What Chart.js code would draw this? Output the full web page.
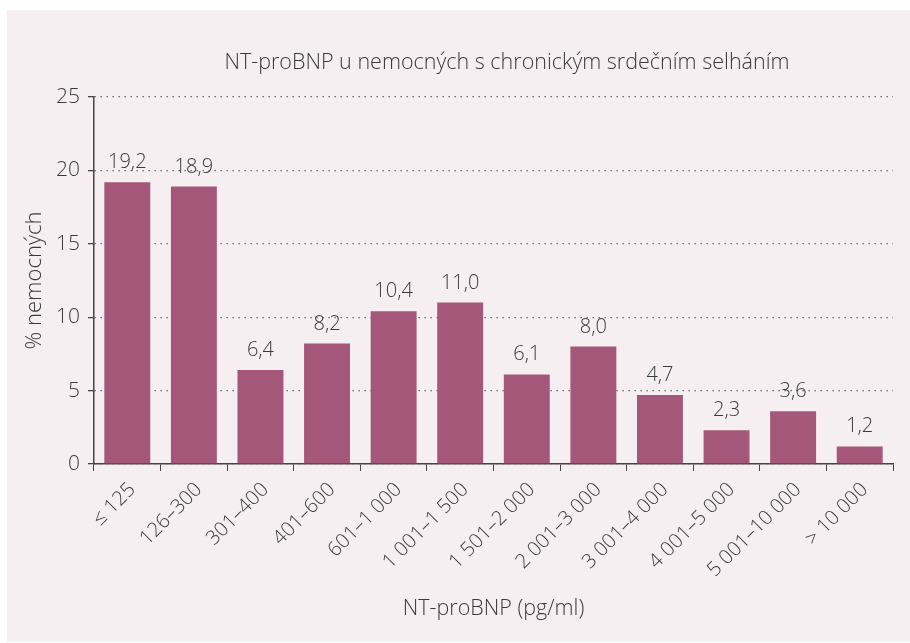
<!DOCTYPE html>
<html>
<head>
<meta charset="utf-8">
<script src="https://cdn.jsdelivr.net/npm/chart.js@4"></script>
<style>
  html, body { margin: 0; padding: 0; background: #fff; }
  #wrap { width: 910px; height: 643px; position: relative; }
</style>
</head>
<body>
<div id="wrap"><canvas id="chart" width="910" height="643"></canvas></div>
<script>
const categories = ['\u2264 125', '126\u2013300', '301\u2013400', '401\u2013600', '601\u20131 000', '1 001\u20131 500',
  '1 501\u20132 000', '2 001\u20133 000', '3 001\u20134 000', '4 001\u20135 000', '5 001\u201310 000', '> 10 000'];
const percentPatients = [19.2, 18.9, 6.4, 8.2, 10.4, 11.0, 6.1, 8.0, 4.7, 2.3, 3.6, 1.2];
const yTicks = [0, 5, 10, 15, 20, 25];
const chartTitle = 'NT-proBNP u nemocných s chronickým srdečním selháním';

const FONT = '"Open Sans", "Noto Sans", sans-serif';
const TEXT = '#3a3a3a';

// pale panel behind the plot + title (title is centred a bit right of the canvas middle)
const panelBg = {
  id: 'panelBg',
  beforeDraw(chart) {
    const ctx = chart.ctx;
    ctx.save();
    ctx.fillStyle = '#f5eff2';
    ctx.fillRect(7, 10, 903, 632);
    ctx.font = '300 21.5px ' + FONT;
    ctx.fillStyle = TEXT;
    ctx.textAlign = 'center';
    ctx.textBaseline = 'alphabetic';
    ctx.fillText(chartTitle, 507, 69);
    ctx.restore();
  }
};

// value labels above bars, with decimal comma
const valueLabels = {
  id: 'valueLabels',
  afterDatasetsDraw(chart) {
    const ctx = chart.ctx;
    const meta = chart.getDatasetMeta(0);
    ctx.save();
    ctx.font = '300 20px ' + FONT;
    ctx.fillStyle = TEXT;
    ctx.textAlign = 'center';
    ctx.textBaseline = 'alphabetic';
    meta.data.forEach((bar, i) => {
      ctx.fillText(percentPatients[i].toFixed(1).replace('.', ','), bar.x, bar.y - 14);
    });
    ctx.restore();
  }
};

new Chart(document.getElementById('chart').getContext('2d'), {
  type: 'bar',
  data: {
    labels: categories,
    datasets: [{
      data: percentPatients,
      backgroundColor: '#a45778',
      borderWidth: 0,
      categoryPercentage: 1,
      barPercentage: 0.69
    }]
  },
  options: {
    responsive: false,
    animation: false,
    layout: { padding: { left: 0, right: 17, top: 97, bottom: 0 } },
    plugins: {
      legend: { display: false },
      tooltip: { enabled: false },
      title: { display: false }
    },
    scales: {
      y: {
        min: 0,
        max: 25,
        afterBuildTicks: s => { s.ticks = yTicks.map(v => ({ value: v })); },
        afterFit: s => { s.width = 94; },
        border: { display: true, color: '#444', width: 1.5, dash: [1.3, 4.7] },
        grid: {
          color: '#555',
          lineWidth: 1.3,
          drawTicks: true,
          tickLength: 6,
          tickColor: '#444',
          tickBorderDash: []
        },
        ticks: { color: TEXT, padding: 8, font: { family: FONT, size: 21, weight: '300' } },
        title: {
          display: true,
          text: '% nemocných',
          color: TEXT,
          font: { family: FONT, size: 22, weight: '300', lineHeight: 1.2 },
          padding: { top: 22, bottom: 0 }
        }
      },
      x: {
        offset: true,
        afterFit: s => { s.height = 643 - 464; },
        border: { display: true, color: '#444', width: 1.5 },
        grid: {
          offset: true,
          drawOnChartArea: false,
          drawTicks: true,
          tickLength: 7,
          tickColor: '#444'
        },
        ticks: {
          color: TEXT,
          minRotation: 45,
          maxRotation: 45,
          padding: 7,
          labelOffset: 5,
          autoSkip: false,
          font: { family: FONT, size: 20, weight: '300' }
        },
        title: {
          display: true,
          text: 'NT-proBNP (pg/ml)',
          color: TEXT,
          font: { family: FONT, size: 21.5, weight: '300', lineHeight: 1.2 },
          padding: { top: 0, bottom: 21 }
        }
      }
    }
  },
  plugins: [panelBg, valueLabels]
});
</script>
</body>
</html>
